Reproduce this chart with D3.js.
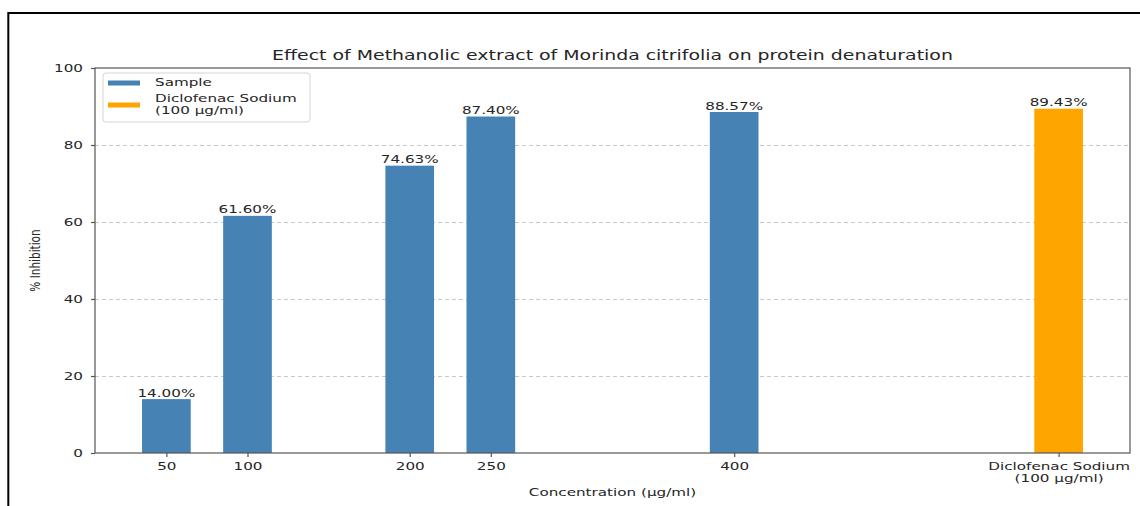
<!DOCTYPE html>
<html>
<head>
<meta charset="utf-8">
<script src="https://cdn.jsdelivr.net/npm/d3@7"></script>
<style>
  body { margin: 0; background: #fff; }
  text { font-family: "DejaVu Sans", sans-serif; fill: #262626; }
</style>
</head>
<body>
<svg id="chart" width="1140" height="506"></svg>
<script>
// ---- data ----
const categories = ["50", "100", "200", "250", "400", "Diclofenac Sodium\n(100 µg/ml)"];
const concentrations = [50, 100, 200, 250, 400, 600];   // x position of each bar on the concentration axis
const inhibition = [14.00, 61.60, 74.63, 87.40, 88.57, 89.43];
const groups = ["Sample", "Sample", "Sample", "Sample", "Sample", "Diclofenac"];
const legendLabels = ["Sample", "Diclofenac Sodium\n(100 µg/ml)"];
const yTicks = [0, 20, 40, 60, 80, 100];
const titleText = "Effect of Methanolic extract of Morinda citrifolia on protein denaturation";
const xLabel = "Concentration (µg/ml)";
const yLabel = "% Inhibition";

// ---- layout ----
const W = 1140, H = 506;
const plot = { left: 95, right: 1130, top: 68, bottom: 453 };
const SX = 1.38;              // wide horizontal text aspect
const barWidth = 30;          // in concentration units
const colors = { Sample: "#4682B4", Diclofenac: "#FFA500" };
const spine = "#555";

const svg = d3.select("#chart");

// page frame
svg.append("line").attr("x1", 8).attr("x2", W).attr("y1", 13).attr("y2", 13)
  .attr("stroke", "#000").attr("stroke-width", 2);
svg.append("line").attr("x1", 8.3).attr("x2", 8.3).attr("y1", 12).attr("y2", H)
  .attr("stroke", "#000").attr("stroke-width", 2);

// scales
const lo = d3.min(concentrations) - barWidth / 2;
const hi = d3.max(concentrations) + barWidth / 2;
const pad = 0.05 * (hi - lo);
const x = d3.scaleLinear().domain([lo - pad, hi + pad]).range([plot.left, plot.right]);
const y = d3.scaleLinear().domain([0, 100]).range([plot.bottom, plot.top]);

// grid
svg.append("g").selectAll("line").data(yTicks.filter(t => t > 0 && t < 100)).join("line")
  .attr("x1", plot.left).attr("x2", plot.right)
  .attr("y1", d => y(d) + 0.5).attr("y2", d => y(d) + 0.5)
  .attr("stroke", "#c8c8c8").attr("stroke-width", 1).attr("stroke-dasharray", "4,3");

// bars
svg.append("g").selectAll("rect").data(inhibition).join("rect")
  .attr("x", (d, i) => x(concentrations[i] - barWidth / 2))
  .attr("width", (d, i) => x(concentrations[i] + barWidth / 2) - x(concentrations[i] - barWidth / 2))
  .attr("y", d => y(d))
  .attr("height", d => y(0) - y(d))
  .attr("fill", (d, i) => colors[groups[i]]);

// value labels
svg.append("g").selectAll("text").data(inhibition).join("text")
  .attr("transform", (d, i) => `translate(${x(concentrations[i])},${y(d) - 2.5}) scale(${SX},1)`)
  .attr("text-anchor", "middle").attr("font-size", 11)
  .text(d => d3.format(".2f")(d) + "%");

// x axis
const xAxis = svg.append("g").attr("transform", `translate(0,${plot.bottom})`)
  .call(d3.axisBottom(x).tickValues(concentrations).tickSize(4).tickSizeOuter(0).tickFormat(""));
xAxis.select(".domain").remove();
xAxis.selectAll(".tick line").attr("stroke", spine).attr("stroke-width", 1.2);
xAxis.selectAll(".tick").each(function (d, i) {
  const lines = categories[i].split("\n");
  const t = d3.select(this).append("text")
    .attr("text-anchor", "middle").attr("font-size", 11)
    .attr("transform", `translate(0,17) scale(${SX},1)`);
  lines.forEach((s, k) => t.append("tspan").attr("x", 0).attr("dy", k === 0 ? 0 : 12).text(s));
});

// y axis
const yAxis = svg.append("g").attr("transform", `translate(${plot.left},0)`)
  .call(d3.axisLeft(y).tickValues(yTicks).tickSize(4).tickSizeOuter(0));
yAxis.select(".domain").remove();
yAxis.selectAll(".tick line").attr("stroke", spine).attr("stroke-width", 1.2);
yAxis.selectAll(".tick text")
  .attr("font-family", "DejaVu Sans").attr("font-size", 11).attr("fill", "#262626")
  .attr("x", -8.7).attr("dy", "0.36em")
  .attr("transform", `scale(${SX},1)`);

// spines
svg.append("rect")
  .attr("x", plot.left).attr("y", plot.top)
  .attr("width", plot.right - plot.left).attr("height", plot.bottom - plot.top)
  .attr("fill", "none").attr("stroke", spine).attr("stroke-width", 1.2);

// title and axis labels
svg.append("text")
  .attr("transform", `translate(${(plot.left + plot.right) / 2},60) scale(${SX},1)`)
  .attr("text-anchor", "middle").attr("font-size", 13.7).text(titleText);
svg.append("text")
  .attr("transform", `translate(${(plot.left + plot.right) / 2},496) scale(${SX},1)`)
  .attr("text-anchor", "middle").attr("font-size", 11).text(xLabel);
svg.append("text")
  .attr("transform", `translate(40,${(plot.top + plot.bottom) / 2}) scale(${SX},1) rotate(-90)`)
  .attr("text-anchor", "middle").attr("font-size", 10.5).text(yLabel);

// legend
const legend = svg.append("g");
legend.append("rect")
  .attr("x", 103).attr("y", 73).attr("width", 207).attr("height", 49)
  .attr("rx", 3).attr("fill", "#fff").attr("fill-opacity", 0.8)
  .attr("stroke", "#d4d4d4").attr("stroke-width", 1);
const legendRows = [{ cy: 83, tx: 86 }, { cy: 105, tx: 102 }];
legendLabels.forEach((lab, i) => {
  const key = i === 0 ? "Sample" : "Diclofenac";
  legend.append("rect").attr("x", 108).attr("y", legendRows[i].cy - 2.5)
    .attr("width", 32).attr("height", 5).attr("fill", colors[key]);
  const t = legend.append("text")
    .attr("transform", `translate(155,${legendRows[i].tx}) scale(${SX},1)`)
    .attr("font-size", 11);
  lab.split("\n").forEach((s, k) => t.append("tspan").attr("x", 0).attr("dy", k === 0 ? 0 : 12).text(s));
});
</script>
</body>
</html>
